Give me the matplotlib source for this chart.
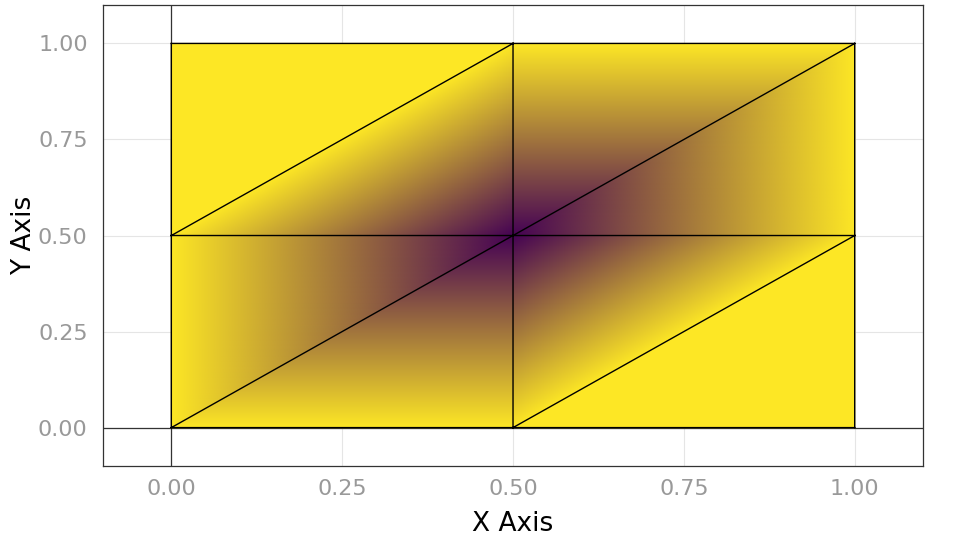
import matplotlib.pyplot as plt
import matplotlib.tri as mtri
from matplotlib.colors import LinearSegmentedColormap

# mesh vertices and values
xs = [0.0, 0.5, 1.0, 0.0, 0.5, 1.0, 0.0, 0.5, 1.0]
ys = [0.0, 0.0, 0.0, 0.5, 0.5, 0.5, 1.0, 1.0, 1.0]
vals = [1, 1, 1, 1, 0, 1, 1, 1, 1]
tris = [[0, 1, 4], [0, 4, 3], [1, 2, 5], [1, 5, 4],
        [3, 4, 7], [3, 7, 6], [4, 5, 8], [4, 8, 7]]
ticks = [0.0, 0.25, 0.5, 0.75, 1.0]

cmap = LinearSegmentedColormap.from_list("py", ["#440154", "#fde725"])

fig = plt.figure(figsize=(9.6, 5.4), dpi=100)
ax = fig.add_axes([0.1073, 0.137, 0.8542, 0.8537])

tri = mtri.Triangulation(xs, ys, tris)
ax.tripcolor(tri, vals, shading="gouraud", cmap=cmap, vmin=0, vmax=1, zorder=2)
ax.triplot(tri, color="black", lw=1, zorder=3)

ax.axhline(0, color="#333333", lw=0.9, zorder=1)
ax.axvline(0, color="#333333", lw=0.9, zorder=1)

ax.set_xlim(-0.1, 1.1)
ax.set_ylim(-0.1, 1.1)
ax.set_xticks(ticks)
ax.set_yticks(ticks)
ax.set_xticklabels(["%.2f" % t for t in ticks])
ax.set_yticklabels(["%.2f" % t for t in ticks])
ax.grid(True, color="#e5e5e5", lw=0.8, zorder=0)
ax.set_axisbelow(True)
ax.tick_params(axis="y", length=0, labelsize=16, labelcolor="#999999", pad=11)
ax.tick_params(axis="x", length=0, labelsize=16, labelcolor="#999999", pad=9)
for s in ax.spines.values():
    s.set_color("#333333")
    s.set_linewidth(0.9)

ax.set_xlabel("X Axis", fontsize=19, labelpad=9)
ax.set_ylabel("Y Axis", fontsize=19, labelpad=1)

fig.savefig("out.png", dpi=100)
